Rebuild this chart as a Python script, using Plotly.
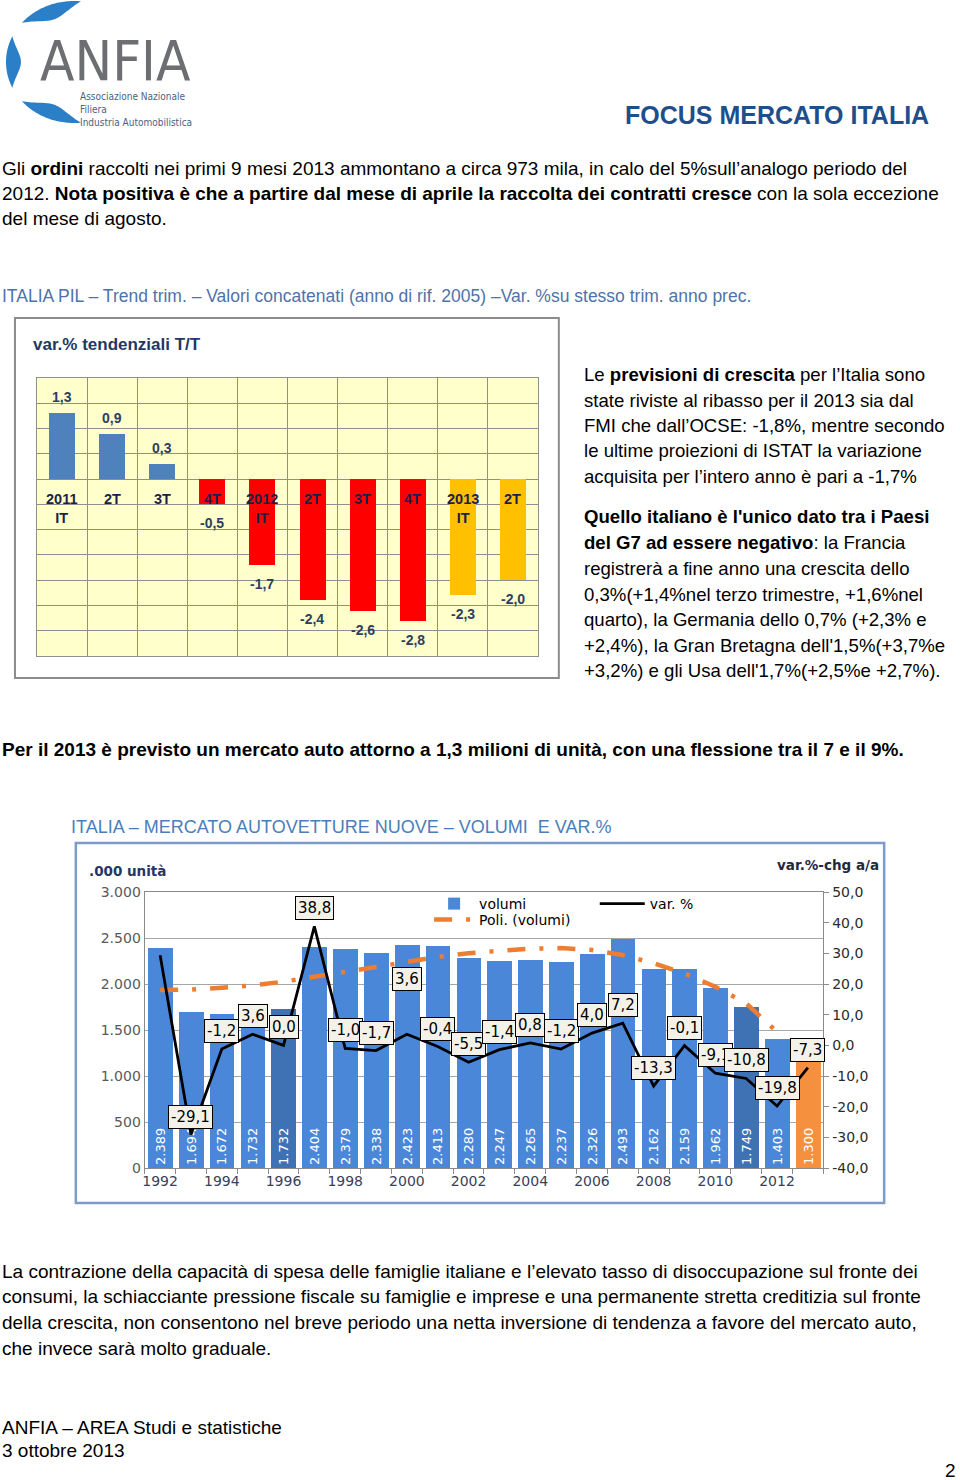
import numpy as np
import plotly.graph_objects as go

W, FIG_H = 960, 1480
PAD = 8          # vertical inset observed in the rendered page
SPAN = FIG_H - 2 * PAD
def fx(x): return x / W
def fy(y): return 1 - (y - PAD) / SPAN

# ---------------- data: chart 1 (PIL trimestrale) ----------------
pil_labels = ["2011<br>IT", "2T", "3T", "4T", "2012<br>IT", "2T", "3T", "4T", "2013<br>IT", "2T"]
pil_years = [2011, 2011, 2011, 2011, 2012, 2012, 2012, 2012, 2013, 2013]
pil_values = [1.3, 0.9, 0.3, -0.5, -1.7, -2.4, -2.6, -2.8, -2.3, -2.0]

# ---------------- data: chart 2 (mercato autovetture) ----------------
years = list(range(1992, 2014))
volumes = [2389, 1694, 1672, 1732, 1732, 2404, 2379, 2338, 2423, 2413, 2280,
           2247, 2265, 2237, 2326, 2493, 2162, 2159, 1962, 1749, 1403, 1300]
var_pct = [29.4, -29.1, -1.2, 3.6, 0.0, 38.8, -1.0, -1.7, 3.6, -0.4, -5.5,
           -1.4, 0.8, -1.2, 4.0, 7.2, -13.3, -0.1, -9.1, -10.8, -19.8, -7.3]
trend_years = list(range(1992, 2013))
trend_vol = [1935, 1940, 1960, 1985, 2025, 2075, 2125, 2185, 2240, 2295, 2335,
             2365, 2385, 2390, 2370, 2315, 2225, 2115, 1970, 1790, 1480]
darker_years = [1996, 2011]
forecast_year = 2013
year_ticks = list(range(1992, 2013, 2))
left_ticks = [0, 500, 1000, 1500, 2000, 2500, 3000]
right_ticks = [-40, -30, -20, -10, 0, 10, 20, 30, 40, 50]

BLUE_TXT = "#1F4E8C"
NAVY = "#1F3864"
BODY = "Liberation Sans, Arial, sans-serif"
VERD = "DejaVu Sans, Verdana, sans-serif"
NARROW = "Liberation Sans Narrow, DejaVu Sans Condensed, Liberation Sans"

fig = go.Figure()

# ---------- chart 1 ----------
def pil_color(v, y):
    if y == 2013:
        return "#FFC000"
    return "#4F81BD" if v >= 0 else "#FF0000"

fig.add_trace(go.Bar(
    x=list(range(len(pil_values))), y=pil_values, width=0.52,
    marker=dict(color=[pil_color(v, y) for v, y in zip(pil_values, pil_years)], line=dict(width=0)),
    xaxis="x", yaxis="y", showlegend=False, hoverinfo="skip"))

# ---------- chart 2 ----------
def vol_color(y):
    if y == forecast_year:
        return "#F5913E"
    if y in darker_years:
        return "#3F72B5"
    return "#4A87D8"

fig.add_trace(go.Bar(
    x=years, y=volumes, width=0.8, name="volumi",
    marker=dict(color=[vol_color(y) for y in years], line=dict(width=0)),
    text=[f"{v:,}".replace(",", ".") for v in volumes],
    textposition="inside", insidetextanchor="start", textangle=-90,
    textfont=dict(family=VERD, size=13, color="white"),
    xaxis="x2", yaxis="y2", legend="legend", hoverinfo="skip"))

fig.add_trace(go.Scatter(
    x=trend_years, y=trend_vol, mode="lines", name="Poli. (volumi)",
    line=dict(color="#EE7D31", width=4.5, dash="18px,14px,4px,14px"),
    xaxis="x2", yaxis="y2", legend="legend3", hoverinfo="skip"))

fig.add_trace(go.Scatter(
    x=years, y=var_pct, mode="lines", name="var. %",
    line=dict(color="black", width=2.8),
    xaxis="x2", yaxis="y3", legend="legend2", hoverinfo="skip"))

annotations = []
shapes = []

def txt(x, y, text, size=19, color="black", family=BODY, xanchor="left", yanchor="middle"):
    annotations.append(dict(x=fx(x), y=fy(y), xref="paper", yref="paper", text=text,
                            showarrow=False, xanchor=xanchor, yanchor=yanchor,
                            font=dict(size=size, color=color, family=family)))

# ---------- logo ----------
def crescent(cx, cy, rx, ry, a1, a2, t):
    a = np.radians(np.linspace(a1, a2, 40))
    s = np.sin(np.pi * (np.linspace(0, 1, 40)))
    outer = [(cx + rx * np.cos(v), cy - ry * np.sin(v)) for v in a]
    inner = [(cx + (rx - t * k) * np.cos(v), cy - (ry - t * k) * np.sin(v)) for v, k in zip(a, s)]
    pts = outer + inner[::-1]
    return "M " + " L ".join(f"{fx(x):.5f},{fy(y):.5f}" for x, y in pts) + " Z"

for a1, a2 in [(84, 140), (155, 205), (220, 276)]:
    shapes.append(dict(type="path", xref="paper", yref="paper", path=crescent(72, 62, 68, 61, a1, a2, 15),
                       fillcolor="#2A7FC6", line=dict(width=0)))

txt(36, 61, "ANFIA", size=56, color="#6D6E71", family=NARROW)
annotations.append(dict(x=fx(76), y=fy(89), xref="paper", yref="paper",
                        text="Associazione Nazionale<br>Filiera<br>Industria Automobilistica",
                        showarrow=False, xanchor="left", yanchor="top", align="left",
                        font=dict(size=10, color="#4A5F82", family=NARROW)))

txt(931, 115, "<b>FOCUS MERCATO ITALIA</b>", size=25, color=BLUE_TXT, xanchor="right")

# ---------- body text ----------
txt(-2, 168, "Gli <b>ordini</b> raccolti nei primi 9 mesi 2013 ammontano a circa 973 mila, in calo del 5%sull’analogo periodo del")
txt(-2, 193, "2012. <b>Nota positiva è che a partire dal mese di aprile la raccolta dei contratti cresce</b> con la sola eccezione")
txt(-2, 218, "del mese di agosto.")
txt(-2, 296, "ITALIA PIL – Trend trim. – Valori concatenati (anno di rif. 2005) –Var. %su stesso trim. anno prec.",
    size=17.5, color="#4F72AA")

right_lines = [
    (375, "Le <b>previsioni di crescita</b> per l’Italia sono"),
    (400, "state riviste al ribasso per il 2013 sia dal"),
    (426, "FMI che dall’OCSE: -1,8%, mentre secondo"),
    (451, "le ultime proiezioni di ISTAT la variazione"),
    (477, "acquisita per l’intero anno è pari a -1,7%"),
    (516, "<b>Quello italiano è l'unico dato tra i Paesi</b>"),
    (542, "<b>del G7 ad essere negativo</b>: la Francia"),
    (568, "registrerà a fine anno una crescita dello"),
    (594, "0,3%(+1,4%nel terzo trimestre, +1,6%nel"),
    (619, "quarto), la Germania dello 0,7% (+2,3% e"),
    (645, "+2,4%), la Gran Bretagna dell'1,5%(+3,7%e"),
    (671, "+3,2%) e gli Usa dell'1,7%(+2,5%e +2,7%)."),
]
for y, t in right_lines:
    txt(581, y, t, size=18.6)

txt(-2, 749, "<b>Per il 2013 è previsto un mercato auto attorno a 1,3 milioni di unità, con una flessione tra il 7 e il 9%.</b>", size=19)
txt(67, 827, "ITALIA – MERCATO AUTOVETTURE NUOVE – VOLUMI  E VAR.%", size=18, color="#4A7EBB")

bottom_lines = [
    (1271, "La contrazione della capacità di spesa delle famiglie italiane e l’elevato tasso di disoccupazione sul fronte dei"),
    (1296, "consumi, la schiacciante pressione fiscale su famiglie e imprese e una permanente stretta creditizia sul fronte"),
    (1322, "della crescita, non consentono nel breve periodo una netta inversione di tendenza a favore del mercato auto,"),
    (1348, "che invece sarà molto graduale."),
]
for y, t in bottom_lines:
    txt(-2, y, t)
txt(-2, 1427, "ANFIA – AREA Studi e statistiche")
txt(-2, 1450, "3 ottobre 2013")
txt(958, 1470, "2", xanchor="right")

# ---------- chart 1 decorations ----------
shapes.append(dict(type="rect", xref="paper", yref="paper", x0=fx(13), x1=fx(558), y0=fy(318), y1=fy(678),
                   line=dict(color="#8C8C8C", width=2), fillcolor="rgba(0,0,0,0)"))
shapes.append(dict(type="rect", xref="x domain", yref="y domain", x0=0, x1=1, y0=0, y1=1,
                   fillcolor="#FFFFCC", line=dict(width=0), layer="below"))
txt(29, 345, "<b>var.% tendenziali T/T</b>", size=17, color=NAVY)

for i, (lab, v) in enumerate(zip(pil_labels, pil_values)):
    annotations.append(dict(x=i, y=0, xref="x", yref="y", text=f"<b>{lab}</b>", showarrow=False,
                            xanchor="center", yanchor="top", yshift=-10,
                            font=dict(size=14.5, color="#1C1F4A", family=BODY)))
    annotations.append(dict(x=i, y=v, xref="x", yref="y", text=f"<b>{v:.1f}</b>".replace(".", ","),
                            showarrow=False, xanchor="center",
                            yanchor="bottom" if v >= 0 else "top", yshift=6 if v >= 0 else -9,
                            font=dict(size=14, color="#2C3E62", family=BODY)))

# ---------- chart 2 decorations ----------
shapes.append(dict(type="rect", xref="paper", yref="paper", x0=fx(74), x1=fx(884), y0=fy(843), y1=fy(1203),
                   line=dict(color="#7B9CC8", width=2.5), fillcolor="rgba(0,0,0,0)"))
txt(85, 871, "<b>.000 unità</b>", size=13.5, color=NAVY, family=VERD)
txt(881, 865, "<b>var.%-chg a/a</b>", size=13.5, color="#1F2A3F", family=VERD, xanchor="right")

label_raise = {2000: 55}
for y, v in zip(years, var_pct):
    if y == years[0]:
        continue
    annotations.append(dict(x=y, y=v, xref="x2", yref="y3", text=f"{v:.1f}".replace(".", ","),
                            showarrow=False, xanchor="center", yanchor="middle",
                            yshift=label_raise.get(y, 18), bgcolor="#F4F2E8",
                            bordercolor="black", borderwidth=1, borderpad=2,
                            font=dict(size=15, color="black", family=VERD)))

def fmt_right(v):
    return f"{v:.1f}".replace(".", ",")

fig.update_layout(
    width=W, height=FIG_H, margin=dict(l=0, r=0, t=0, b=0),
    paper_bgcolor="white", plot_bgcolor="rgba(0,0,0,0)",
    separators=",.", bargap=0,
    annotations=annotations, shapes=shapes,
    xaxis=dict(domain=[fx(35), fx(537)], range=[-0.5, 9.5], anchor="y",
               tickmode="array", tickvals=[i + 0.5 for i in range(-1, 10)],
               showticklabels=False, ticks="", showgrid=True, gridcolor="#8F8F8F", gridwidth=1,
               showline=True, linecolor="#8F8F8F", mirror=True, zeroline=False),
    yaxis=dict(domain=[fy(656), fy(378)], range=[-3.5, 2.0], anchor="x", dtick=0.5,
               showticklabels=False, ticks="", showgrid=True, gridcolor="#8F8F8F", gridwidth=1,
               showline=True, linecolor="#8F8F8F", mirror=True, zeroline=True,
               zerolinecolor="#8F8F8F", zerolinewidth=1),
    xaxis2=dict(domain=[fx(143), fx(823)], range=[1991.5, 2013.5], anchor="y2",
                tickmode="array", tickvals=year_ticks, ticktext=[str(y) for y in year_ticks],
                ticks="", showgrid=False, zeroline=False,
                showline=True, linecolor="#8A8A8A", linewidth=1.2, mirror=True,
                minor=dict(tick0=1991.5, dtick=1, ticks="outside", ticklen=5, tickcolor="#8A8A8A"),
                tickfont=dict(family=VERD, size=14, color="#3A3F5A")),
    yaxis2=dict(domain=[fy(1168), fy(892)], range=[0, 3000], anchor="x2",
                tickmode="array", tickvals=left_ticks,
                ticktext=[f"{v:,}".replace(",", ".") for v in left_ticks],
                showgrid=True, gridcolor="#A6A6A6", gridwidth=1,
                showline=True, linecolor="#8A8A8A", linewidth=1.2, ticks="", zeroline=False,
                tickfont=dict(family=VERD, size=14, color="#595959")),
    yaxis3=dict(overlaying="y2", side="right", range=[-40, 50], anchor="x2",
                tickmode="array", tickvals=right_ticks, ticktext=[fmt_right(v) for v in right_ticks],
                showgrid=False, zeroline=False,
                showline=True, linecolor="#8A8A8A", linewidth=1.2,
                ticks="outside", ticklen=5, tickcolor="#8A8A8A",
                tickfont=dict(family=VERD, size=14, color="#2B2B2B")),
    legend=dict(x=fx(428), y=fy(904), xanchor="left", yanchor="middle", bgcolor="rgba(255,255,255,0)",
                font=dict(family=VERD, size=14, color="black"), itemwidth=40),
    legend3=dict(x=fx(428), y=fy(920), xanchor="left", yanchor="middle", bgcolor="rgba(255,255,255,0)",
                 font=dict(family=VERD, size=14, color="black"), itemwidth=40),
    legend2=dict(x=fx(594), y=fy(904), xanchor="left", yanchor="middle", bgcolor="rgba(255,255,255,0)",
                 font=dict(family=VERD, size=14, color="black"), itemwidth=45),
)

fig.write_html("out.html")
